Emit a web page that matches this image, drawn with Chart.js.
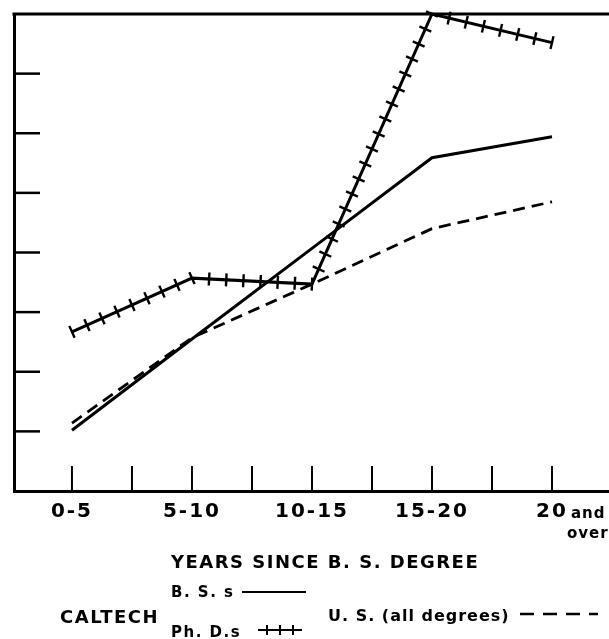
<!DOCTYPE html>
<html>
<head>
<meta charset="utf-8">
<script src="https://cdn.jsdelivr.net/npm/chart.js@4.4.0/dist/chart.umd.min.js"></script>
<style>
  html, body { margin: 0; padding: 0; background: #fff; }
  #wrap { position: relative; width: 609px; height: 639px; }
</style>
</head>
<body>
<div id="wrap"><canvas id="chart" width="609" height="639"></canvas></div>
<script>
// categories along the bottom (years since B.S.)
const categories = ["0-5", "5-10", "10-15", "15-20", "20"];
// values in grid units (8 divisions on the vertical axis, no labels in original)
const bsValues = [1.02, 2.55, 4.07, 5.59, 5.94];
const phdValues = [2.67, 3.57, 3.47, 8.0, 7.52];
const usValues = [1.14, 2.57, 3.47, 4.40, 4.85];
// tick positions
const xTickValues = [0, 0.5, 1, 1.5, 2, 2.5, 3, 3.5, 4];
const yTickValues = [1, 2, 3, 4, 5, 6, 7];

const FONT = "'DejaVu Sans', sans-serif";

function toPoints(vals) {
  return vals.map((v, i) => ({ x: i, y: v }));
}

// inward tick marks, top border, cross-hatched Ph.D. line, and the legend text
const decorPlugin = {
  id: "decor",
  beforeDraw(chart) {
    chart.ctx.letterSpacing = "2px";
  },
  afterDraw(chart) {
    const ctx = chart.ctx;
    const area = chart.chartArea;
    const xs = chart.scales.x;
    const ys = chart.scales.y;
    ctx.save();
    ctx.letterSpacing = "0px";
    ctx.strokeStyle = "#000";
    ctx.fillStyle = "#000";
    ctx.lineCap = "butt";

    // top border
    ctx.lineWidth = 3;
    ctx.beginPath();
    ctx.moveTo(area.left - 1.5, area.top);
    ctx.lineTo(area.right, area.top);
    ctx.stroke();

    // y ticks pointing inward
    ctx.lineWidth = 2.5;
    yTickValues.forEach(v => {
      const y = ys.getPixelForValue(v);
      ctx.beginPath();
      ctx.moveTo(area.left, y);
      ctx.lineTo(area.left + 26, y);
      ctx.stroke();
    });

    // x ticks pointing up
    ctx.lineWidth = 2;
    xTickValues.forEach(v => {
      const x = xs.getPixelForValue(v);
      ctx.beginPath();
      ctx.moveTo(x, area.bottom);
      ctx.lineTo(x, area.bottom - 25);
      ctx.stroke();
    });

    // cross marks along the Ph.D. line
    const meta = chart.getDatasetMeta(1);
    const pts = meta.data;
    ctx.lineWidth = 2.4;
    const half = 6.5;
    for (let i = 0; i < pts.length - 1; i++) {
      const a = pts[i], b = pts[i + 1];
      const dx = b.x - a.x, dy = b.y - a.y;
      const len = Math.hypot(dx, dy);
      const n = Math.max(1, Math.round(len / 16.5));
      const nx = -dy / len, ny = dx / len;
      for (let k = (i === 0 ? 0 : 1); k <= n; k++) {
        const t = k / n;
        const px = a.x + dx * t, py = a.y + dy * t;
        ctx.beginPath();
        ctx.moveTo(px - nx * half, py - ny * half);
        ctx.lineTo(px + nx * half, py + ny * half);
        ctx.stroke();
      }
    }

    // "and over" beside the last category label
    ctx.textAlign = "left";
    ctx.textBaseline = "alphabetic";
    ctx.letterSpacing = "1px";
    ctx.font = "bold 15px " + FONT;
    ctx.fillText("and", 571, 518);
    ctx.fillText("over", 567, 538);

    // axis title
    ctx.letterSpacing = "1.5px";
    ctx.font = "bold 18px " + FONT;
    ctx.fillText("YEARS SINCE B. S. DEGREE", 171, 568);

    // legend
    ctx.font = "bold 18px " + FONT;
    ctx.fillText("CALTECH", 60, 623);
    ctx.font = "bold 15px " + FONT;
    ctx.fillText("B. S. s", 171, 597);
    ctx.fillText("Ph. D.s", 171, 637);
    ctx.letterSpacing = "1px";
    ctx.font = "bold 16px " + FONT;
    ctx.fillText("U. S. (all degrees)", 328, 621);

    // legend samples
    ctx.lineWidth = 2;
    ctx.beginPath();
    ctx.moveTo(242, 592);
    ctx.lineTo(306, 592);
    ctx.stroke();

    ctx.beginPath();
    ctx.moveTo(258, 630);
    ctx.lineTo(302, 630);
    ctx.stroke();
    [267, 280, 293].forEach(x => {
      ctx.beginPath();
      ctx.moveTo(x, 625);
      ctx.lineTo(x, 635);
      ctx.stroke();
    });

    ctx.lineWidth = 2.5;
    ctx.setLineDash([14, 9]);
    ctx.beginPath();
    ctx.moveTo(520, 614);
    ctx.lineTo(598, 614);
    ctx.stroke();
    ctx.setLineDash([]);

    ctx.restore();
  }
};

new Chart(document.getElementById("chart"), {
  type: "line",
  data: {
    datasets: [
      {
        label: "B. S. s",
        data: toPoints(bsValues),
        borderColor: "#000",
        borderWidth: 3,
        pointRadius: 0,
        tension: 0,
        clip: 6
      },
      {
        label: "Ph. D.s",
        data: toPoints(phdValues),
        borderColor: "#000",
        borderWidth: 3,
        pointRadius: 0,
        tension: 0,
        clip: 6
      },
      {
        label: "U. S. (all degrees)",
        data: toPoints(usValues),
        borderColor: "#000",
        borderWidth: 2.8,
        borderDash: [12, 7],
        pointRadius: 0,
        tension: 0,
        clip: 6
      }
    ]
  },
  options: {
    responsive: false,
    animation: false,
    layout: { padding: { left: 14, top: 14, right: 0, bottom: 106 } },
    plugins: {
      legend: { display: false },
      tooltip: { enabled: false }
    },
    scales: {
      x: {
        type: "linear",
        min: -0.483,
        max: 4.475,
        grid: { display: false, drawTicks: false },
        border: { display: true, width: 3, color: "#000" },
        afterBuildTicks(scale) {
          scale.ticks = categories.map((c, i) => ({ value: i }));
        },
        ticks: {
          autoSkip: false,
          maxRotation: 0,
          padding: 9,
          color: "#000",
          font: { family: FONT, size: 20, weight: "bold" },
          callback: (v) => categories[Math.round(v)]
        }
      },
      y: {
        min: 0,
        max: 8,
        grid: { display: false, drawTicks: false },
        border: { display: true, width: 3, color: "#000" },
        ticks: { display: false }
      }
    }
  },
  plugins: [decorPlugin]
});
</script>
</body>
</html>
